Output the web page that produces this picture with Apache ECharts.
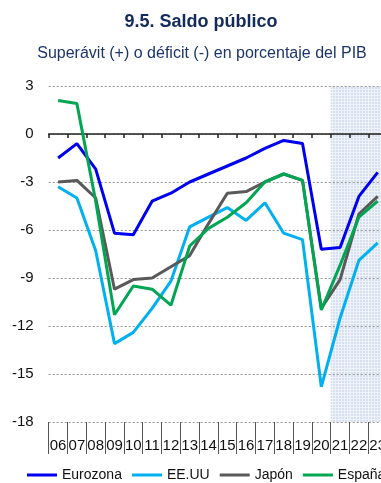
<!DOCTYPE html>
<html>
<head>
<meta charset="utf-8">
<script src="https://cdn.jsdelivr.net/npm/echarts@6/dist/echarts.min.js"></script>
<style>
  html, body { margin: 0; padding: 0; background: #fff; }
  #chart { width: 381px; height: 483px; }
</style>
</head>
<body>
<div id="chart"></div>
<script>
// Años (2006-2023); 21-23 son previsiones
const years = ['06','07','08','09','10','11','12','13','14','15','16','17','18','19','20','21','22','23'];
const forecastYears = ['21', '22', '23'];

// Saldo público, % del PIB
const eurozona = [-1.5, -0.6, -2.2, -6.2, -6.3, -4.2, -3.7, -3.0, -2.5, -2.0, -1.5, -0.9, -0.4, -0.6, -7.2, -7.1, -3.9, -2.4];
const eeuu     = [-3.3, -4.0, -7.3, -13.1, -12.4, -10.9, -9.2, -5.8, -5.2, -4.6, -5.4, -4.3, -6.2, -6.6, -15.8, -11.5, -7.9, -6.8];
const japon    = [-3.0, -2.9, -4.0, -9.7, -9.1, -9.0, -8.3, -7.6, -5.6, -3.7, -3.6, -3.0, -2.5, -2.9, -10.9, -9.1, -5.0, -3.9];
const espana   = [2.1, 1.9, -4.2, -11.3, -9.5, -9.7, -10.7, -7.0, -5.9, -5.2, -4.3, -3.0, -2.5, -2.9, -11.0, -8.2, -5.2, -4.2];

const yMin = -18, yMax = 3, yStep = 3;

// Trama punteada para el periodo de previsión
function forecastPattern() {
  const c = document.createElement('canvas');
  c.width = 3; c.height = 3;
  const ctx = c.getContext('2d');
  ctx.fillStyle = '#d6dff0';
  ctx.fillRect(0, 0, 3, 3);
  ctx.fillStyle = '#eef2f9';
  ctx.fillRect(0, 2, 3, 1);
  ctx.fillRect(2, 0, 1, 3);
  return c;
}

const font = 'Liberation Sans, Arial, sans-serif';
const chart = echarts.init(document.getElementById('chart'), null, { renderer: 'canvas' });

function line(name, data, color) {
  return {
    name, type: 'line', data, symbol: 'none',
    lineStyle: { color, width: 3 }, itemStyle: { color },
    z: 3
  };
}

// Bandas sombreadas de previsión: columnas a ancho completo de categoría,
// por debajo de las líneas de cuadrícula
const pattern = { image: forecastPattern(), repeat: 'repeat' };
function band(limit) {
  return {
    name: 'previsión', type: 'bar', stack: 'prev', barWidth: '100%',
    data: years.map(y => forecastYears.includes(y) ? limit : null),
    itemStyle: { color: pattern }, silent: true, z: -1
  };
}

const series = [
  band(yMax),
  band(yMin),
  line('Eurozona', eurozona, '#0000f0'),
  line('EE.UU', eeuu, '#00b0f0'),
  line('Japón', japon, '#595959'),
  line('España', espana, '#00a651')
];

chart.setOption({
  animation: false,
  title: [
    {
      text: '9.5. Saldo público',
      left: 196, top: 8, textAlign: 'center',
      textStyle: { fontFamily: font, fontSize: 18, fontWeight: 'bold', color: '#132a5c' }
    },
    {
      text: 'Superávit (+) o déficit (-) en porcentaje del PIB',
      left: 197, top: 41, textAlign: 'center',
      textStyle: { fontFamily: font, fontSize: 16, fontWeight: 'normal', color: '#1b356b' }
    }
  ],
  legend: {
    left: 27, top: 468, width: 600, padding: 0,
    icon: 'rect', itemWidth: 30, itemHeight: 3, itemGap: 10,
    textStyle: { fontFamily: font, fontSize: 14, color: '#111' },
    data: ['Eurozona', 'EE.UU', 'Japón', 'España']
  },
  // el área de trazado continúa más allá del borde derecho del lienzo
  grid: {
    left: 48.7, top: 86, width: 338.4, height: 336,
    containLabel: false, outerBoundsMode: 'none'
  },
  xAxis: [
    {
      type: 'category', data: years, position: 'bottom', boundaryGap: true,
      axisLine: { show: false, onZero: false },
      axisTick: { show: true, interval: 0, length: 32, lineStyle: { color: '#555', width: 1 } },
      axisLabel: { interval: 0, margin: 16, fontFamily: font, fontSize: 15, color: '#111' },
      splitLine: { show: false }
    },
    {
      type: 'category', data: years, position: 'bottom', boundaryGap: true,
      axisLine: { show: true, onZero: true, lineStyle: { color: '#222', width: 1.5 } },
      axisTick: { show: true, interval: 0, length: 4, lineStyle: { color: '#222', width: 1.5 } },
      axisLabel: { show: false },
      splitLine: { show: false }
    }
  ],
  yAxis: {
    type: 'value', min: yMin, max: yMax, interval: yStep,
    axisLine: { show: false }, axisTick: { show: false },
    axisLabel: { margin: 15, fontFamily: font, fontSize: 15, color: '#111' },
    splitLine: { show: true, lineStyle: { color: '#999', type: [2, 2], width: 1 } }
  },
  series
});
</script>
</body>
</html>
